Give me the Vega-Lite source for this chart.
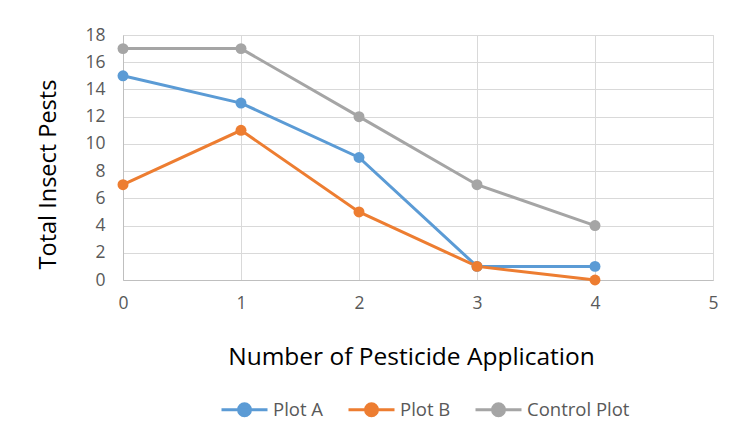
{
  "$schema": "https://vega.github.io/schema/vega-lite/v6.json",
  "width": 590,
  "height": 245,
  "autosize": {"type": "none"},
  "padding": {"left": 123, "top": 35, "right": 19, "bottom": 156},
  "background": "white",
  "data": {
    "values": [
      {"x": 0, "y": 15, "series": "Plot A"},
      {"x": 1, "y": 13, "series": "Plot A"},
      {"x": 2, "y": 9, "series": "Plot A"},
      {"x": 3, "y": 1, "series": "Plot A"},
      {"x": 4, "y": 1, "series": "Plot A"},
      {"x": 0, "y": 7, "series": "Plot B"},
      {"x": 1, "y": 11, "series": "Plot B"},
      {"x": 2, "y": 5, "series": "Plot B"},
      {"x": 3, "y": 1, "series": "Plot B"},
      {"x": 4, "y": 0, "series": "Plot B"},
      {"x": 0, "y": 17, "series": "Control Plot"},
      {"x": 1, "y": 17, "series": "Control Plot"},
      {"x": 2, "y": 12, "series": "Control Plot"},
      {"x": 3, "y": 7, "series": "Control Plot"},
      {"x": 4, "y": 4, "series": "Control Plot"}
    ]
  },
  "mark": {"type": "line", "strokeWidth": 3, "point": {"size": 120, "filled": true, "opacity": 1}},
  "encoding": {
    "x": {
      "field": "x", "type": "quantitative",
      "scale": {"domain": [0, 5], "nice": false, "zero": false},
      "axis": {"values": [0, 1, 2, 3, 4, 5], "format": "d", "title": "Number of Pesticide Application",
        "labelPadding": 14, "titlePadding": 34, "labelFlush": false, "titleX": 288}
    },
    "y": {
      "field": "y", "type": "quantitative",
      "scale": {"domain": [0, 18], "nice": false},
      "axis": {"values": [0, 2, 4, 6, 8, 10, 12, 14, 16, 18], "title": "Total Insect Pests",
        "labelPadding": 18, "titlePadding": 24, "labelFlush": false, "titleFontSize": 23.5, "titleY": 139}
    },
    "color": {
      "field": "series", "type": "nominal",
      "scale": {"domain": ["Plot A", "Plot B", "Control Plot"], "range": ["#5B9BD5", "#ED7D31", "#A5A5A5"]},
      "legend": {
        "title": null, "orient": "none", "direction": "horizontal",
        "legendX": 97, "legendY": 350,
        "symbolType": "M -1 0 L 1 0 M 0.26 0 A 0.26 0.26 0 1 1 -0.26 0 A 0.26 0.26 0 1 1 0.26 0 Z",
        "symbolSize": 2116, "symbolStrokeWidth": 3,
        "labelFont": "Open Sans", "labelFontSize": 18.5, "labelColor": "#595959",
        "labelOffset": 4, "columnPadding": 18,
        "encode": {"symbols": {"update": {"fill": {"scale": "color", "field": "value"}, "fillOpacity": {"value": 1}, "strokeOpacity": {"value": 1}}}}
      }
    }
  },
  "config": {
    "font": "Open Sans",
    "view": {"stroke": "#D9D9D9"},
    "axis": {
      "grid": true, "gridColor": "#D9D9D9", "gridWidth": 1,
      "ticks": false, "domainColor": "#BFBFBF", "domainWidth": 1,
      "labelFont": "Open Sans", "labelFontSize": 17.5, "labelColor": "#595959",
      "titleFont": "Open Sans", "titleFontSize": 24.5, "titleFontWeight": "normal", "titleColor": "#000000"
    }
  }
}
